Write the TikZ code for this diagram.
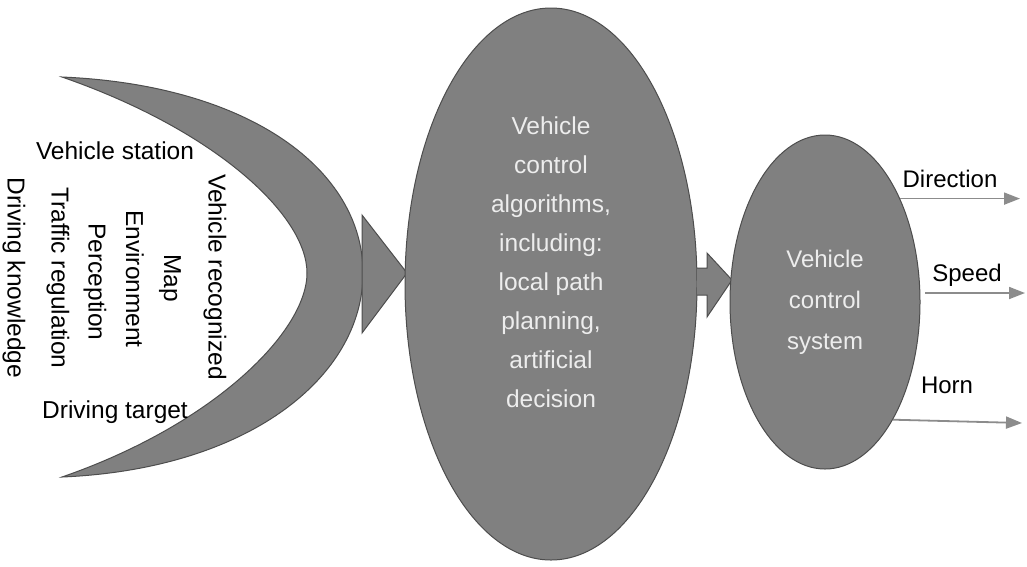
\documentclass[tikz,border=0pt]{standalone}
\usepackage{fontspec}
\setmainfont{Liberation Sans}
\usetikzlibrary{shapes.geometric,arrows.meta,calc}
\definecolor{bodygray}{HTML}{808080}
\definecolor{rim}{HTML}{4D4D4D}
\definecolor{arrowgray}{HTML}{8C8C8C}
\definecolor{paletext}{HTML}{EDEDED}
\begin{document}
\begin{tikzpicture}[x=1pt,y=-1pt,
  blob/.style={ellipse, draw=rim, fill=bodygray, line width=1pt, inner sep=0pt},
  intext/.style={text=paletext, align=center},
  lbl/.style={font=\fontsize{24.5}{28}\selectfont, text=black, inner sep=1pt},
  outlbl/.style={font=\fontsize{24}{28}\selectfont, text=black, inner sep=1pt},
  outarrow/.style={draw=arrowgray, line width=1.8pt, -{Triangle[length=16pt,width=12pt]}},
  block/.style={fill=bodygray, draw=rim, line width=1pt, line join=miter}]

\useasboundingbox (0,0) rectangle (1027,566);
\fill[white] (0,0) rectangle (1027,566);

% input crescent
\draw[block] (62,77) .. controls (250,85) and (363,170) .. (363,273)
  .. controls (363,376) and (250,469) .. (62,477)
  .. controls (215,424) and (307,331) .. (307,273)
  .. controls (307,215) and (215,130) .. (62,77) -- cycle;

% input texts
\node[lbl] (station) at (115,151) {Vehicle station};
\node[lbl] (target) at (115,412) {Driving target};
\node[lbl, rotate=-90] (recog) at (215,277) {Vehicle recognized};
\node[lbl, rotate=-90] (map) at (170,278) {Map};
\node[lbl, rotate=-90] (env) at (135,279) {Environment};
\node[lbl, rotate=-90] (perc) at (95,282) {Perception};
\node[lbl, rotate=-90] (traffic) at (58,278) {Traffic regulation};
\node[lbl, rotate=-90] (know) at (14,278) {Driving knowledge};

% arrow head from crescent into the algorithm block
\draw[block] (362,215) -- (407,273) -- (362,333) -- cycle;

% algorithm ellipse
\node[blob, minimum width=292pt, minimum height=552pt] (algo) at (551,284) {};
\node[intext, font=\fontsize{24.5}{39}\selectfont] (algotext) at ($(algo.center)+(0,-22)$)
  {Vehicle\\control\\algorithms,\\including:\\local path\\planning,\\artificial\\decision};

% block arrow between the ellipses
\fill[bodygray] (697,268) -- (707,268) -- (707,253) -- (732,280) -- (707,317) -- (707,295) -- (697,295) -- cycle;
\draw[rim, line width=1pt, line join=miter] (697,268) -- (707,268) -- (707,253) -- (732,280) -- (707,317) -- (707,295) -- (697,295);

% control system ellipse
\node[blob, minimum width=190pt, minimum height=334pt] (sys) at (825,302) {};
\node[intext, font=\fontsize{24}{41}\selectfont] (systext) at (sys.center) {Vehicle\\control\\system};

% outputs
\coordinate (dirtip) at (1020,197);
\coordinate (spdstart) at (925,293);
\coordinate (spdtip) at (1025,293);
\coordinate (horntip) at (1022,423);
\draw[outarrow] (sys.54) -- (sys.54 -| dirtip);
\draw[outarrow] (spdstart) -- (spdtip);
\draw[outarrow] (sys.-60) -- (horntip);
\node[outlbl] (dir) at (950,179) {Direction};
\node[outlbl] (spd) at (967,275) {Speed};
\node[outlbl] (horn) at (947,385) {Horn};
\end{tikzpicture}
\end{document}
